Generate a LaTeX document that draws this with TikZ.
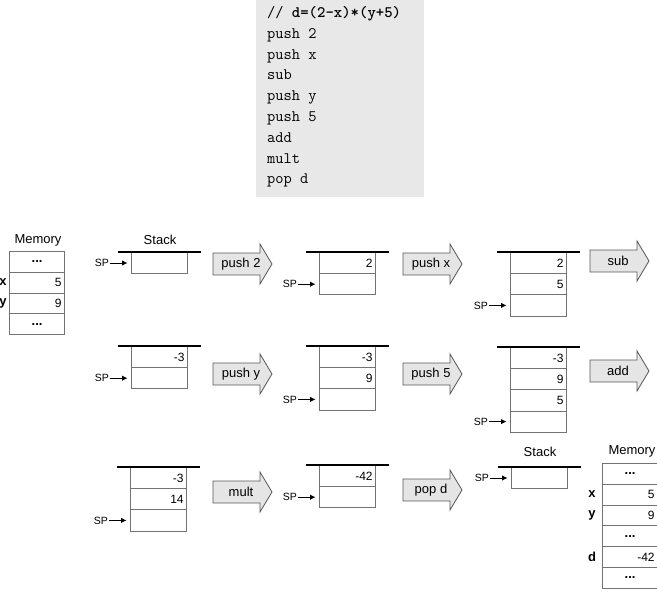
\documentclass[tikz,border=0pt]{standalone}
\usepackage{fontspec}
\setmainfont{Liberation Sans}
\usetikzlibrary{arrows.meta}
\newcommand{\emptyv}{}
\newcommand{\mdots}{\makebox[49pt][c]{\textbf{\fontsize{13}{13}\selectfont ...}}}
\tikzset{
  cell/.style={draw=black!55, line width=0.8pt, minimum width=56pt, minimum height=21.2pt, inner sep=0pt, anchor=north west},
  mcell/.style={draw=black!55, line width=0.8pt, minimum width=55pt, minimum height=20.8pt, inner sep=0pt, anchor=north west},
  val/.style={anchor=east, xshift=-3pt, inner sep=0pt, font=\fontsize{12}{12}\selectfont},
  stackbar/.style={line width=2.6pt, black},
  sptext/.style={anchor=east, inner sep=0.5pt, font=\fontsize{10.5}{10.5}\selectfont},
  sparrow/.style={-{Latex[length=5.5pt,width=5.5pt]}, line width=0.8pt},
  oparr/.style={draw=black!65, fill=black!10, line width=0.8pt, line join=miter},
  optext/.style={inner sep=0pt, font=\fontsize{13}{13}\selectfont},
  title/.style={inner sep=0pt, font=\fontsize{13}{13}\selectfont},
  lbl/.style={inner sep=0pt, font=\bfseries\fontsize{13}{13}\selectfont},
  code/.style={anchor=base west, inner sep=0pt, font=\fontsize{16}{16}\ttfamily},
}
% stack: name, x, ytop, values, SP row
\newcommand{\stk}[5]{%
  \foreach \v [count=\i] in {#4} {
    \node[cell] (#1-\i) at ({#2},{#3+(\i-1)*21.2}) {};
    \node[val] at (#1-\i.east) {\v};
  }
  \draw[stackbar] ([xshift=-13pt]#1-1.north west) -- ([xshift=13pt]#1-1.north east);
  \node[sptext] (#1-sp) at ([xshift=-21.5pt]#1-#5.west) {SP};
  \draw[sparrow] (#1-sp.east) -- ([xshift=-3.5pt]#1-#5.west);
}
% memory: name, x, ytop, values
\newcommand{\memtab}[4]{%
  \foreach \v [count=\i] in {#4} {
    \node[mcell] (#1-\i) at ({#2},{#3+(\i-1)*20.8}) {};
    \node[val] at (#1-\i.east) {\v};
  }
}
% operation arrow: name, x0, ycenter, text
\newcommand{\oparrow}[4]{%
  \draw[oparr] ({#2},{#3-11}) -- ({#2+47},{#3-11}) -- ({#2+47},{#3-20}) -- ({#2+59},{#3}) -- ({#2+47},{#3+20}) -- ({#2+47},{#3+11}) -- ({#2},{#3+11}) -- cycle;
  \node[optext] (#1) at ({#2+28},{#3}) {#4};
}
\begin{document}
\begin{tikzpicture}[x=1pt,y=-1pt]
\useasboundingbox (0,0) rectangle (657,608);
% code listing
\fill[black!9] (256,0) rectangle (424,197);
\node[code] (c1) at (267,17.5) {// \textbf{d=(2-x)*(y+5)}};
\node[code] (c2) at (267,38.3) {push 2};
\node[code] (c3) at (267,59.1) {push x};
\node[code] (c4) at (267,79.9) {sub};
\node[code] (c5) at (267,100.7) {push y};
\node[code] (c6) at (267,121.5) {push 5};
\node[code] (c7) at (267,142.3) {add};
\node[code] (c8) at (267,163.1) {mult};
\node[code] (c9) at (267,183.9) {pop d};
% left memory
\node[title] (mem1) at (38,240) {Memory};
\memtab{ma}{9}{251}{\mdots,5,9,\mdots}
\node[lbl, anchor=east] (ma-x) at (6.8,282) {x};
\node[lbl, anchor=east] (ma-y) at (6.8,303) {y};
% row 1
\node[title] (stk1) at (160,240) {Stack};
\stk{a}{131}{252}{\emptyv}{1}
\oparrow{opa}{213}{264}{push 2}
\stk{b}{319}{252}{2,\emptyv}{2}
\oparrow{opb}{403}{264}{push x}
\stk{c}{510}{252}{2,5,\emptyv}{3}
\oparrow{opc}{590}{261}{sub}
% row 2
\stk{d}{131}{346}{-3,\emptyv}{2}
\oparrow{opd}{213}{374}{push y}
\stk{e}{319}{346}{-3,9,\emptyv}{3}
\oparrow{ope}{403}{374}{push 5}
\stk{f}{510}{347}{-3,9,5,\emptyv}{4}
\oparrow{opf}{590}{371}{add}
% row 3
\stk{g}{130}{467}{-3,14,\emptyv}{3}
\oparrow{opg}{213}{492}{mult}
\stk{h}{319}{465}{-42,\emptyv}{2}
\oparrow{oph}{403}{490}{pop d}
\node[title] (stk2) at (540,452) {Stack};
\stk{k}{511}{467}{\emptyv}{1}
% right memory
\node[title] (mem2) at (632,451) {Memory};
\memtab{mb}{602}{463}{\mdots,5,9,\mdots,-42,\mdots}
\node[lbl] (mb-x) at (592,494.5) {x};
\node[lbl] (mb-y) at (592,515.5) {y};
\node[lbl] (mb-d) at (592,557) {d};
\end{tikzpicture}
\end{document}
